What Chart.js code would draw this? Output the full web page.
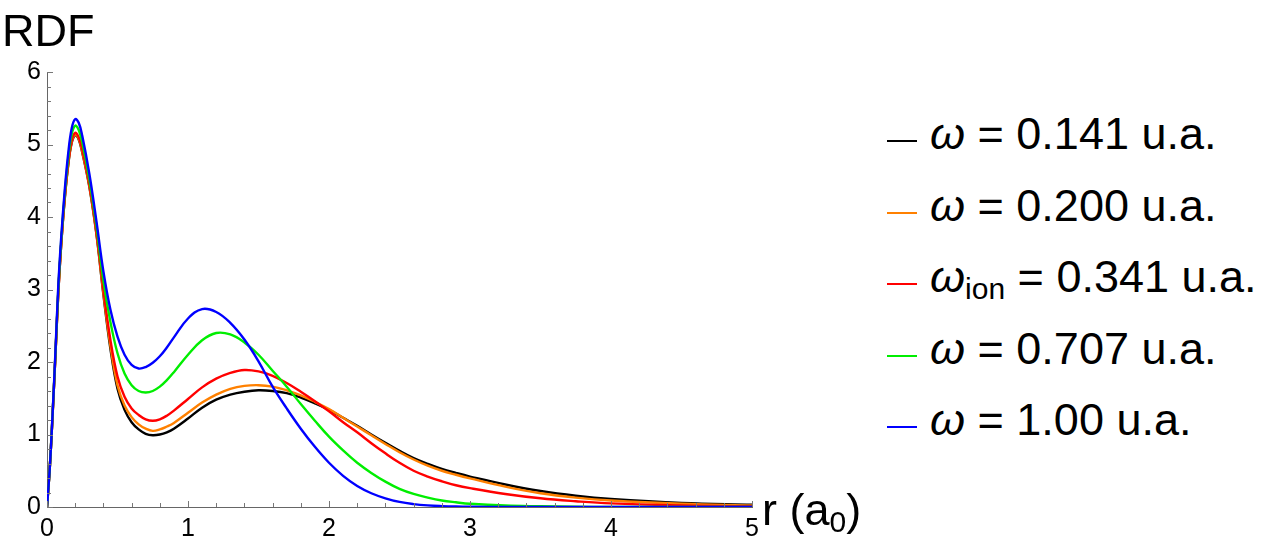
<!DOCTYPE html>
<html lang="es">
<head>
  <meta charset="UTF-8" />
  <title>RDF</title>
  <script src="https://cdn.jsdelivr.net/npm/chart.js"></script>
  <style>
    body { margin: 0; background: #fff; font-family: "Liberation Sans", Arial, sans-serif; }
    .page { position: relative; width: 1269px; height: 553px; overflow: hidden; }
    .plot { position: absolute; left: 0; top: 0; width: 800px; height: 553px; }
    .lbl { position: absolute; color: #000; white-space: nowrap; line-height: 1; }
    .legend { position: absolute; left: 887px; top: 111px; }
    .row { height: 71.5px; font-size: 45px; white-space: nowrap; line-height: 1; }
    .sw { display: inline-block; width: 30px; height: 2px; margin-right: 13px; vertical-align: 7px; }
    .row sub { font-size: 30px; vertical-align: -7px; line-height: 0; }
  </style>
</head>
<body>
  <div class="page">
    <div class="plot"><canvas id="rdfChart"></canvas></div>
    <div class="lbl" style="left:2px; top:8px; font-size:45px;">RDF</div>
    <div class="lbl" style="left:762px; top:487px; font-size:45px;">r (a<sub style="font-size:30px; vertical-align:-7px; line-height:0;">0</sub>)</div>
    <div class="legend" id="legend"></div>
  </div>

  <script>
    // radio (a0)
    const rVals = [0, 0.02, 0.04, 0.06, 0.08, 0.1, 0.125, 0.15, 0.175, 0.2, 0.225, 0.25, 0.3, 0.35, 0.4, 0.45,
      0.5, 0.55, 0.6, 0.65, 0.7, 0.75, 0.8, 0.85, 0.9, 1.0, 1.1, 1.2, 1.3, 1.4, 1.5, 1.6, 1.7, 1.8, 1.9,
      2.0, 2.1, 2.2, 2.3, 2.4, 2.5, 2.6, 2.7, 2.8, 2.9, 3.0, 3.25, 3.5, 3.75, 4.0, 4.5, 5.0];

    // RDF para cada frecuencia
    const rdf0141 = [0, 0.55, 1.28, 2.1, 2.95, 3.6, 4.23, 4.71, 5.02, 5.13, 5.07, 4.89, 4.42, 3.77, 2.93, 2.18,
      1.63, 1.34, 1.17, 1.07, 1.01, 0.99, 1.0, 1.03, 1.08, 1.22, 1.37, 1.48, 1.55, 1.59, 1.61, 1.60, 1.57, 1.51, 1.43,
      1.34, 1.23, 1.12, 1.00, 0.885, 0.775, 0.675, 0.595, 0.525, 0.47, 0.42, 0.31, 0.22, 0.155, 0.11, 0.055, 0.03];
    const rdf0200 = [0, 0.55, 1.28, 2.1, 2.95, 3.6, 4.24, 4.72, 5.03, 5.14, 5.08, 4.9, 4.43, 3.78, 2.95, 2.22,
      1.68, 1.40, 1.24, 1.14, 1.08, 1.05, 1.07, 1.11, 1.16, 1.30, 1.44, 1.55, 1.63, 1.67, 1.68, 1.66, 1.61, 1.54, 1.45,
      1.35, 1.23, 1.11, 0.99, 0.87, 0.755, 0.655, 0.57, 0.50, 0.445, 0.395, 0.28, 0.19, 0.13, 0.09, 0.045, 0.02];
    const rdf0341 = [0, 0.55, 1.28, 2.1, 2.95, 3.6, 4.25, 4.73, 5.05, 5.16, 5.1, 4.93, 4.45, 3.8, 3.0, 2.3,
      1.8, 1.52, 1.36, 1.27, 1.21, 1.19, 1.21, 1.26, 1.33, 1.49, 1.65, 1.77, 1.85, 1.89, 1.87, 1.81, 1.71, 1.59, 1.46,
      1.32, 1.17, 1.03, 0.88, 0.74, 0.61, 0.50, 0.42, 0.355, 0.30, 0.26, 0.18, 0.12, 0.08, 0.05, 0.02, 0.01];
    const rdf0707 = [0, 0.55, 1.3, 2.12, 3.0, 3.65, 4.3, 4.8, 5.14, 5.26, 5.2, 5.03, 4.52, 3.88, 3.12, 2.55,
      2.12, 1.84, 1.68, 1.60, 1.58, 1.60, 1.66, 1.75, 1.86, 2.10, 2.30, 2.40, 2.38, 2.27, 2.10, 1.88, 1.66, 1.42, 1.19,
      0.97, 0.78, 0.61, 0.47, 0.35, 0.25, 0.18, 0.13, 0.09, 0.065, 0.045, 0.02, 0.01, 0.003, 0, 0, 0];
    const rdf1000 = [0, 0.55, 1.3, 2.15, 3.05, 3.7, 4.35, 4.87, 5.22, 5.35, 5.3, 5.12, 4.6, 3.95, 3.25, 2.72,
      2.35, 2.10, 1.96, 1.91, 1.93, 1.99, 2.08, 2.20, 2.34, 2.60, 2.73, 2.69, 2.54, 2.31, 2.01, 1.66, 1.36, 1.08, 0.83,
      0.61, 0.43, 0.29, 0.19, 0.12, 0.07, 0.04, 0.022, 0.012, 0.006, 0.003, 0, 0, 0, 0, 0, 0];

    const xTicks = [0, 1, 2, 3, 4, 5];
    const yTicks = [0, 1, 2, 3, 4, 5, 6];

    const series = [
      { name: "\u03c9 = 1.00 u.a.", sub: "", color: "#0000ff", data: rdf1000 },
      { name: "\u03c9 = 0.707 u.a.", sub: "", color: "#00ee00", data: rdf0707 },
      { name: "\u03c9 = 0.341 u.a.", sub: "ion", color: "#ff0000", data: rdf0341 },
      { name: "\u03c9 = 0.200 u.a.", sub: "", color: "#ff8000", data: rdf0200 },
      { name: "\u03c9 = 0.141 u.a.", sub: "", color: "#000000", data: rdf0141 }
    ];

    // leyenda (orden original: de 0.141 a 1.00)
    const legend = document.getElementById("legend");
    series.slice().reverse().forEach(s => {
      const rest = s.name.slice(1);
      legend.innerHTML += `<div class="row"><span class="sw" style="background:${s.color}"></span><i>\u03c9</i>${s.sub ? "<sub>" + s.sub + "</sub>" : ""}${rest}</div>`;
    });

    const isMajor = v => Math.abs(v - Math.round(v)) < 1e-6;

    // marcas hacia dentro, como en Mathematica
    const innerTicks = {
      id: "innerTicks",
      afterDraw(chart) {
        const { ctx, chartArea, scales } = chart;
        ctx.save();
        ctx.strokeStyle = "#777";
        ctx.lineWidth = 1;
        scales.x.ticks.forEach(t => {
          const px = Math.round(scales.x.getPixelForValue(t.value)) + 0.5;
          const len = isMajor(t.value) ? 6 : 4;
          ctx.beginPath();
          ctx.moveTo(px, chartArea.bottom);
          ctx.lineTo(px, chartArea.bottom - len);
          ctx.stroke();
        });
        scales.y.ticks.forEach(t => {
          const py = Math.round(scales.y.getPixelForValue(t.value)) + 0.5;
          const len = isMajor(t.value) ? 6 : 4;
          ctx.beginPath();
          ctx.moveTo(chartArea.left, py);
          ctx.lineTo(chartArea.left + len, py);
          ctx.stroke();
        });
        ctx.restore();
      }
    };

    new Chart(document.getElementById("rdfChart"), {
      type: "line",
      data: {
        datasets: series.map(s => ({
          label: s.name,
          data: rVals.map((r, i) => ({ x: r, y: s.data[i] })),
          borderColor: s.color,
          borderWidth: 2.4,
          pointRadius: 0,
          fill: false,
          tension: 0.4
        }))
      },
      options: {
        responsive: true,
        maintainAspectRatio: false,
        animation: false,
        layout: { padding: { top: 72, right: 48, left: 0, bottom: 0 } },
        plugins: { legend: { display: false }, tooltip: { enabled: false } },
        scales: {
          x: {
            type: "linear",
            min: xTicks[0],
            max: xTicks[xTicks.length - 1],
            afterFit: s => { s.height = 46; },
            grid: { drawOnChartArea: false, drawTicks: false },
            border: { display: true, color: "#666", width: 1 },
            ticks: {
              stepSize: 0.2,
              autoSkip: false,
              maxRotation: 0,
              padding: 7,
              color: "#000",
              font: { family: "Liberation Sans", size: 25 },
              callback: v => (isMajor(v) && xTicks.includes(Math.round(v)) ? String(Math.round(v)) : "")
            }
          },
          y: {
            min: yTicks[0],
            max: yTicks[yTicks.length - 1],
            afterFit: s => { s.width = 47; },
            grid: { drawOnChartArea: false, drawTicks: false },
            border: { display: true, color: "#666", width: 1 },
            ticks: {
              stepSize: 0.2,
              autoSkip: false,
              padding: 6,
              color: "#000",
              font: { family: "Liberation Sans", size: 25 },
              callback: v => (isMajor(v) && yTicks.includes(Math.round(v)) ? String(Math.round(v)) : "")
            }
          }
        }
      },
      plugins: [innerTicks]
    });
  </script>
</body>
</html>
